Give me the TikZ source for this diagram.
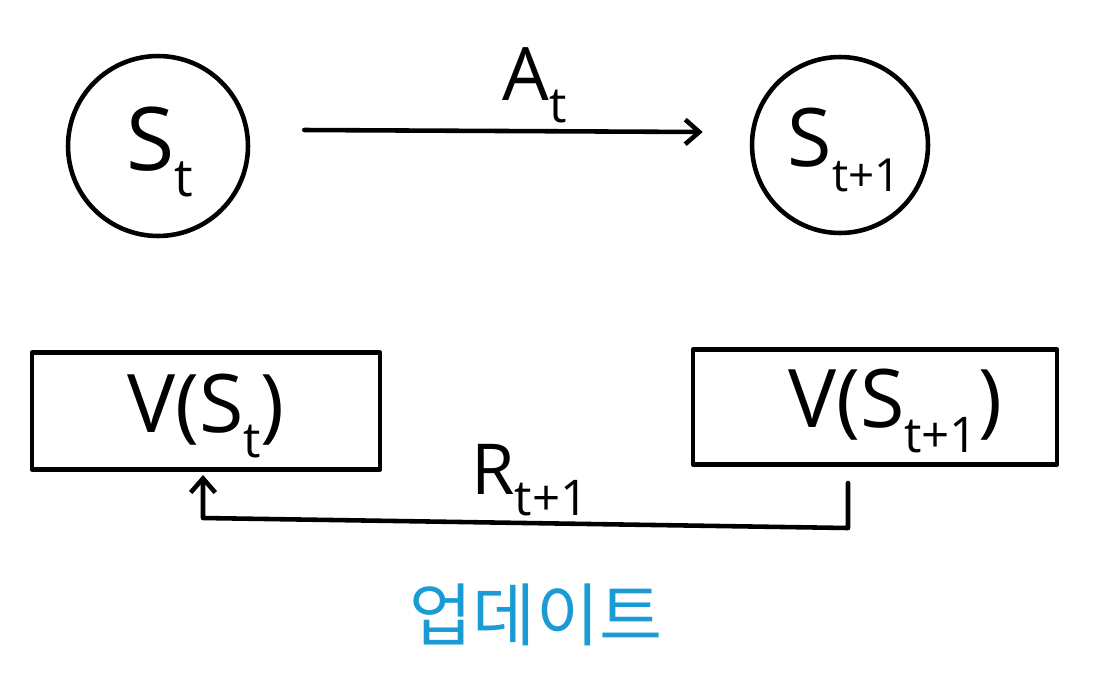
\documentclass[tikz,border=0pt]{standalone}
\usepackage{fontspec}
\setmainfont{Open Sans}
\newfontfamily\kofont{Noto Sans CJK KR}
\usetikzlibrary{arrows.meta,calc}
\definecolor{upblue}{HTML}{1A9BD4}
\newcommand\lowsub[2]{\raisebox{-0.3em}{\fontsize{#1}{#1}\selectfont #2}}
\tikzset{
  x=0.02cm, y=-0.02cm,
  pen/.style={line width=2.6pt, line cap=round, line join=round},
  statecirc/.style={pen, draw, circle, minimum size=#1, inner sep=0pt},
  valbox/.style={pen, draw, rectangle, inner sep=0pt},
  lbl/.style={inner sep=0pt, font=\fontsize{42}{46}\selectfont},
  arr/.style={pen, -{Straight Barb[length=8pt,width=14pt,line width=2.6pt]}}
}
\begin{document}
\begin{tikzpicture}
\useasboundingbox (0,0) rectangle (1104,684);
\node[statecirc=3.6cm] (st) at (158,146) {};
\node[lbl, font=\fontsize{50}{54}\selectfont] at (160,152) {S\lowsub{30}{t}};
\node[statecirc=3.52cm] (st1) at (840,145) {};
\node[lbl, font=\fontsize{46}{50}\selectfont] at (844,150) {S\lowsub{26}{t+1}};
\draw[arr] ($(st.east)+(54,-16)$) coordinate (a0) -- ($(st1.west)+(-47,-13)$) coordinate (a1);
\node[lbl] (at) at (535,85) {A\lowsub{28}{t}};
\node[valbox, minimum width=6.96cm, minimum height=2.34cm] (vst) at (206,411) {};
\node[lbl, font=\fontsize{46}{50}\selectfont] at (206,416) {V(S\lowsub{28}{t})};
\node[valbox, minimum width=7.28cm, minimum height=2.3cm] (vst1) at (875,407) {};
\node[lbl, font=\fontsize{46}{50}\selectfont] at (895,411) {V(S\lowsub{28}{t+1})};
\coordinate (c0) at (848,483);
\coordinate (c1) at (848,528);
\coordinate (c2) at (203,518);
\coordinate (c3) at (203,475);
\draw[arr] (c0) -- (c1) -- (c2) -- (c3);
\node[lbl, font=\fontsize{40}{44}\selectfont] (r) at (530,480) {R\lowsub{28}{t+1}};
\node[inner sep=0pt, text=upblue, font=\kofont\fontsize{39}{42}\selectfont] (up) at (536,615) {업데이트};
\end{tikzpicture}
\end{document}
